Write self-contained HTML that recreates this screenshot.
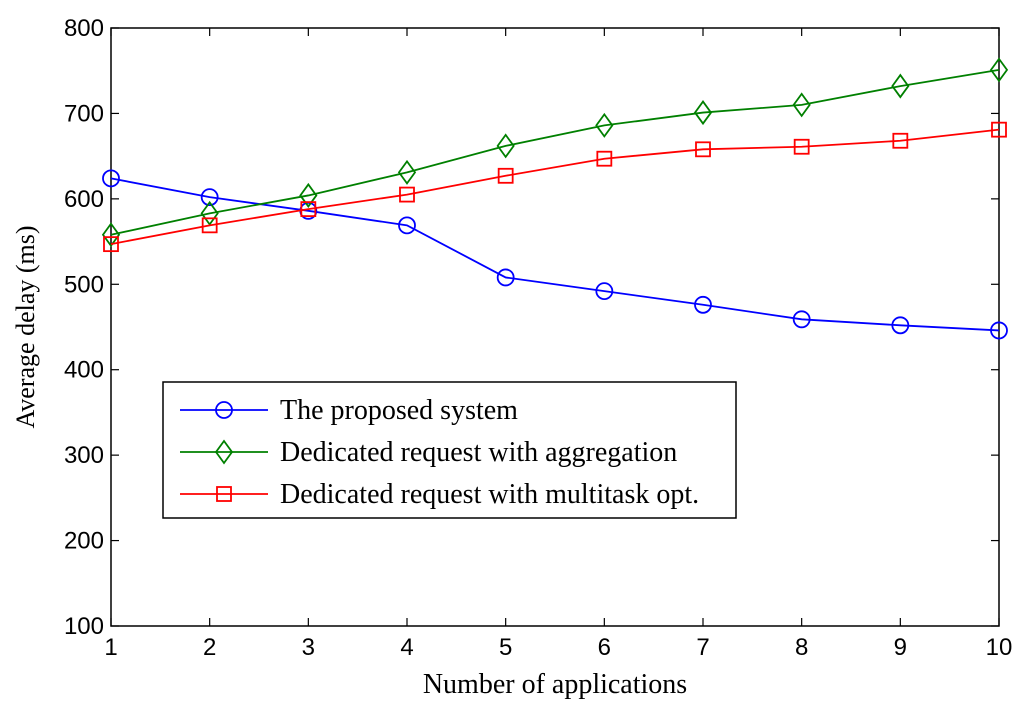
<!DOCTYPE html>
<html><head><meta charset="utf-8"><style>
html,body{margin:0;padding:0;background:#fff;}
svg{display:block;}
</style></head><body>
<svg id="chart" width="1024" height="711" viewBox="0 0 1024 711" xmlns="http://www.w3.org/2000/svg">
<rect x="0" y="0" width="1024" height="711" fill="#fff"/>
<g id="plot"></g>
</svg>
<script>
const categories = [1,2,3,4,5,6,7,8,9,10];
const proposedValues = [624,602,586,569,508,492,476,459,452,446];
const aggregationValues = [558,583,604,631,662,686,701,710,732,751];
const multitaskValues = [547,569,588,605,627,647,658,661,668,681];
const yTicks = [100,200,300,400,500,600,700,800];
const seriesNames = ["The proposed system","Dedicated request with aggregation","Dedicated request with multitask opt."];

const L=111,R=999,T=28,B=626;
const xS=v=>L+(v-1)/(10-1)*(R-L);
const yS=v=>B-(v-100)/(800-100)*(B-T);
const NS="http://www.w3.org/2000/svg";
const g=document.getElementById('plot');
function mk(tag,attrs,parent){const e=document.createElementNS(NS,tag);for(const k in attrs)e.setAttribute(k,attrs[k]);(parent||g).appendChild(e);return e;}

let fr=mk('rect',{x:L,y:T,width:R-L,height:B-T,fill:'none',stroke:'#000','stroke-width':1.5});


categories.forEach(c=>{
  const x=xS(c);
  mk('line',{x1:x,y1:B,x2:x,y2:B-8,stroke:'#000','stroke-width':1.2});
  mk('line',{x1:x,y1:T,x2:x,y2:T+8,stroke:'#000','stroke-width':1.2});
  const t=mk('text',{x:x,y:B+29,'text-anchor':'middle','font-family':'Liberation Sans, sans-serif','font-size':24});
  t.textContent=c;
  
  
});
yTicks.forEach(v=>{
  const y=yS(v);
  mk('line',{x1:L,y1:y,x2:L+8,y2:y,stroke:'#000','stroke-width':1.2});
  mk('line',{x1:R,y1:y,x2:R-8,y2:y,stroke:'#000','stroke-width':1.2});
  const t=mk('text',{x:L-7,y:y+8,'text-anchor':'end','font-family':'Liberation Sans, sans-serif','font-size':24});
  t.textContent=v;
  
  
});
let xt=mk('text',{x:(L+R)/2,y:693,'text-anchor':'middle','font-family':'Liberation Serif, serif','font-size':28});
xt.textContent='Number of applications';


let yt=mk('text',{x:0,y:0,'text-anchor':'middle','font-family':'Liberation Serif, serif','font-size':26,transform:'translate(34,'+((T+B)/2)+') rotate(-90)'});
yt.textContent='Average delay (ms)';



function marker(type,x,y,color,parent){
  if(type==='o') return mk('circle',{cx:x,cy:y,r:8,fill:'none',stroke:color,'stroke-width':1.8},parent);
  if(type==='d') return mk('polygon',{points:`${x},${y-11} ${x+8},${y} ${x},${y+11} ${x-8},${y}`,fill:'none',stroke:color,'stroke-width':1.8},parent);
  return mk('rect',{x:x-7,y:y-7,width:14,height:14,fill:'none',stroke:color,'stroke-width':1.8},parent);
}
const series=[[proposedValues,'#0000ff','o','proposed'],[aggregationValues,'#008000','d','aggregation'],[multitaskValues,'#ff0000','s','multitask']];
series.forEach(([vals,col,m,nm])=>{
  const sg=mk('g',{});
  
  
  const pl=mk('polyline',{points:vals.map((v,i)=>xS(categories[i])+','+yS(v)).join(' '),fill:'none',stroke:col,'stroke-width':1.8},sg);
  
  
  vals.forEach((v,i)=>{const p=marker(m,xS(categories[i]),yS(v),col,sg);
    
    });
});
const lg=mk('g',{});


mk('rect',{x:163,y:382,width:573,height:136,fill:'#fff',stroke:'#000','stroke-width':1.5},lg);
series.forEach(([vals,col,m,nm],i)=>{
  const y=410+i*42;
  const eg=mk('g',{},lg);
  
  
  mk('line',{x1:180,y1:y,x2:268,y2:y,stroke:col,'stroke-width':1.8},eg);
  marker(m,224,y,col,eg);
  const t=mk('text',{x:280,y:y+9,'font-family':'Liberation Serif, serif','font-size':28},eg);
  t.textContent=seriesNames[i];
});
</script>
</body></html>
